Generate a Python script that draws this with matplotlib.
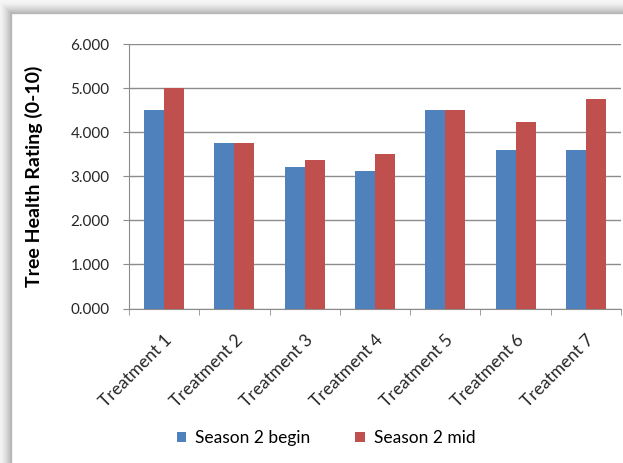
import numpy as np
import matplotlib
matplotlib.use("Agg")
import matplotlib.pyplot as plt

# tree health ratings per treatment
treatments = ["Treatment 1", "Treatment 2", "Treatment 3", "Treatment 4",
              "Treatment 5", "Treatment 6", "Treatment 7"]
season2_begin = [4.50, 3.75, 3.22, 3.11, 4.50, 3.60, 3.60]
season2_mid = [5.00, 3.75, 3.36, 3.50, 4.50, 4.22, 4.75]

plt.rcParams["font.family"] = ["Lato", "DejaVu Sans"]

W, H = 623, 463
fig = plt.figure(figsize=(W / 100, H / 100), dpi=100)

# frame background with soft drop shadow on the top/left edges
bg = fig.add_axes([0, 0, 1, 1])
yy, xx = np.mgrid[0:H, 0:W]
d = np.maximum(11 - xx, 13 - yy).astype(float)
shade = np.ones((H, W))
outside = d > 0
shade[outside] = 0.96 - 0.26 * (1 - np.clip(d[outside] / 12, 0, 1)) ** 1.5
bg.imshow(shade, cmap="gray", vmin=0, vmax=1, extent=[0, W, H, 0], aspect="auto")
bg.plot([11, 11, W], [H, 13, 13], color="#b8b8b8", lw=1)
bg.set_xlim(0, W)
bg.set_ylim(H, 0)
bg.axis("off")

ax = fig.add_axes([129 / W, 1 - 308.5 / H, 492 / W, (308.5 - 44) / H])
x = np.arange(len(treatments))
w = 0.285
ax.bar(x - w / 2, season2_begin, w, color="#4f81bd", zorder=3, label="Season 2 begin")
ax.bar(x + w / 2, season2_mid, w, color="#c0504d", zorder=3, label="Season 2 mid")

ax.set_xlim(-0.5, len(treatments) - 0.5)
ax.set_ylim(0, 6)
ax.set_yticks(np.arange(0, 7, 1))
ax.set_yticklabels([f"{v:.3f}" for v in range(7)], fontsize=11, color="#262626")
ax.yaxis.grid(True, color="#8c8c8c", lw=1, zorder=0)

ax.set_xticks(x)
ax.set_xticklabels(treatments, rotation=45, ha="right", rotation_mode="anchor",
                   fontsize=12.5, color="#262626")
ax.tick_params(axis="x", length=0, pad=17)
ax.set_xticks(np.arange(-0.5, len(treatments), 1), minor=True)
ax.tick_params(axis="x", which="minor", length=4, color="#8c8c8c")
ax.tick_params(axis="y", length=4, color="#8c8c8c", pad=10)

for side in ["top", "right"]:
    ax.spines[side].set_visible(False)
for side in ["left", "bottom"]:
    ax.spines[side].set_color("#8c8c8c")

ax.set_ylabel("Tree Health Rating (0-10)", fontsize=14, fontweight="bold", labelpad=20)

fig.legend(*ax.get_legend_handles_labels(), loc="center",
           bbox_to_anchor=(326 / W, 1 - 438 / H), ncol=2, frameon=False,
           fontsize=12.5, handlelength=0.55, handleheight=0.55, columnspacing=2.6,
           handletextpad=0.5)

fig.savefig("out.png", dpi=100)
